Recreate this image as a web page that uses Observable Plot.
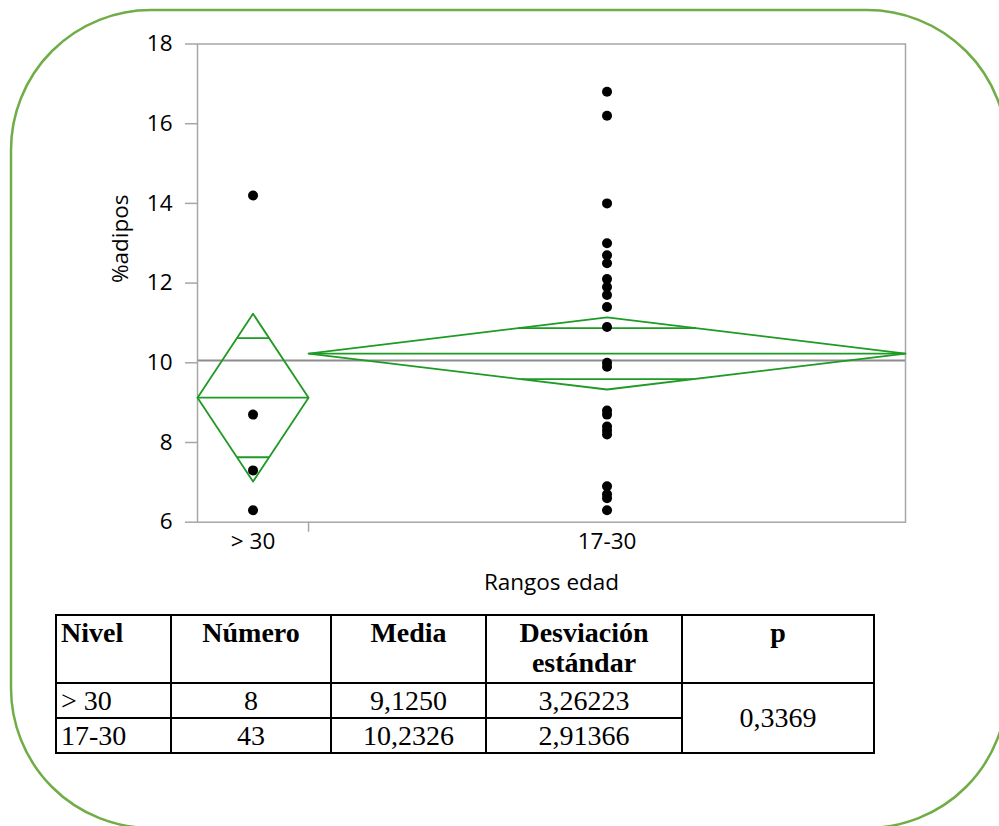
<!DOCTYPE html>
<html><head><meta charset="utf-8">
<script src="https://cdn.jsdelivr.net/npm/d3@7"></script>
<script src="https://cdn.jsdelivr.net/npm/@observablehq/plot@0.6"></script>
<style>
html,body{margin:0;padding:0;background:#fff;}
body{width:999px;height:826px;overflow:hidden;position:relative;}
#border{position:absolute;left:0;top:0;}
#chart{position:absolute;left:0;top:0;}
#stats{position:absolute;left:55px;top:614px;border-collapse:collapse;table-layout:fixed;
  font-family:"Liberation Serif","Times New Roman",serif;font-size:28px;color:#000;}
#stats th,#stats td{border:2px solid #000;padding:0 4px;line-height:30px;}
#stats th{vertical-align:top;height:64px;padding-top:2px;}
#stats td{text-align:center;height:33px;}
#stats .lvl{text-align:left;}
#stats .pv{vertical-align:middle;}
</style>
</head><body>
<svg id="border" width="999" height="826"><rect x="11" y="10" width="996" height="818" rx="140" ry="140" fill="none" stroke="#70ad47" stroke-width="2.5"/></svg>
<div id="chart"></div>
<table id="stats"></table>
<script>
// ---- data ----
const levels = ["> 30", "17-30"];
const counts = [8, 43];
const means = [9.125, 10.2326];
const sds = [3.26223, 2.91366];
const pValue = "0,3369";
const ciLower = [7.02, 9.33];
const ciUpper = [11.23, 11.14];
const overlapLower = [7.63, 9.59];
const overlapUpper = [10.62, 10.87];
const grandMean = 10.06;
const valuesOver30 = [14.2, 8.7, 7.3, 6.3];
const values17to30 = [16.8, 16.2, 14.0, 13.0, 12.7, 12.5, 12.1, 11.9, 11.7, 11.4, 10.9, 10.0, 9.9, 8.8, 8.7, 8.4, 8.3, 8.2, 6.9, 6.7, 6.6, 6.3];
const yTicks = [6, 8, 10, 12, 14, 16, 18];
const headers = ["Nivel", "Número", "Media", "Desviación<br>estándar", "p"];
const xLabel = "Rangos edad";
const yLabel = "%adipos";

// ---- derived geometry (band widths proportional to counts) ----
const total = d3.sum(counts);
const starts = counts.map((c, i) => d3.sum(counts.slice(0, i)));
const centers = counts.map((c, i) => starts[i] + c / 2);
const groupValues = [valuesOver30, values17to30];
const points = groupValues.flatMap((vals, i) => vals.map(v => ({x: centers[i], y: v})));

const diamond = levels.flatMap((g, i) => [
  {g, x: starts[i], y: means[i]},
  {g, x: centers[i], y: ciUpper[i]},
  {g, x: starts[i] + counts[i], y: means[i]},
  {g, x: centers[i], y: ciLower[i]},
  {g, x: starts[i], y: means[i]}
]);
const meanLines = levels.map((g, i) => ({x1: starts[i], x2: starts[i] + counts[i], y: means[i]}));
const overlapLines = levels.flatMap((g, i) => {
  const half = counts[i] / 2;
  const hu = half * (ciUpper[i] - overlapUpper[i]) / (ciUpper[i] - means[i]);
  const hl = half * (overlapLower[i] - ciLower[i]) / (means[i] - ciLower[i]);
  return [
    {x1: centers[i] - hu, x2: centers[i] + hu, y: overlapUpper[i]},
    {x1: centers[i] - hl, x2: centers[i] + hl, y: overlapLower[i]}
  ];
});

const green = "#1f9a24";
const gray = "#a6a6a6";

const chart = Plot.plot({
  width: 999,
  height: 610,
  marginLeft: 197,
  marginRight: 94,
  marginTop: 43.5,
  marginBottom: 88.3,
  style: {fontFamily: "'Open Sans', sans-serif", fontSize: "22.5px", color: "#000", background: "transparent"},
  x: {domain: [0, total], axis: null},
  y: {domain: [6, 18], axis: null},
  marks: [
    Plot.ruleY([grandMean], {stroke: "#8c8c8c", strokeWidth: 2}),
    Plot.frame({stroke: gray, strokeWidth: 1.5}),
    Plot.axisY(yTicks, {tickSize: 12, tickPadding: 13, stroke: gray, strokeWidth: 1.5, fill: "#000", label: null}),
    Plot.axisX([starts[1]], {tickSize: 10, stroke: gray, strokeWidth: 1.5, tickFormat: () => "", label: null}),
    Plot.text(levels, {x: (d, i) => centers[i], frameAnchor: "bottom", dy: 27, fill: "#000"}),
    Plot.text([xLabel], {frameAnchor: "bottom", dy: 68, fill: "#000"}),
    Plot.text([yLabel], {frameAnchor: "left", rotate: -90, dx: -77, fill: "#000"}),
    Plot.line(diamond, {x: "x", y: "y", z: "g", stroke: green, strokeWidth: 1.8}),
    Plot.link(meanLines, {x1: "x1", x2: "x2", y1: "y", y2: "y", stroke: green, strokeWidth: 1.8}),
    Plot.link(overlapLines, {x1: "x1", x2: "x2", y1: "y", y2: "y", stroke: green, strokeWidth: 1.8}),
    Plot.dot(points, {x: "x", y: "y", r: 5, fill: "#000", stroke: null})
  ]
});
document.getElementById("chart").appendChild(chart);

// ---- table ----
const colWidths = [115, 160, 155, 196, 192];
let html = "<colgroup>" + colWidths.map(w => `<col style="width:${w}px">`).join("") + "</colgroup>";
html += "<tr>" + headers.map((h, i) => `<th class="${i === 0 ? "lvl" : ""}">${h}</th>`).join("") + "</tr>";
levels.forEach((g, i) => {
  html += "<tr>" +
    `<td class="lvl">${g}</td>` +
    `<td>${counts[i]}</td>` +
    `<td>${means[i].toFixed(4).replace(".", ",")}</td>` +
    `<td>${sds[i].toFixed(5).replace(".", ",")}</td>` +
    (i === 0 ? `<td class="pv" rowspan="2">${pValue}</td>` : "") +
    "</tr>";
});
document.getElementById("stats").innerHTML = html;
</script>
</body></html>
